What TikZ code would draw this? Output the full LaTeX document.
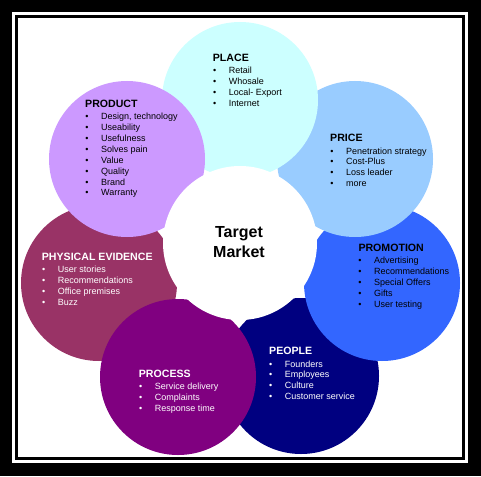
\documentclass[tikz,border=0pt]{standalone}
\usepackage{fontspec}
\setmainfont{Liberation Sans}
\usepackage{tikz}
\usetikzlibrary{positioning}

\definecolor{placecol}{HTML}{CCFFFF}
\definecolor{pricecol}{HTML}{99CCFF}
\definecolor{promocol}{HTML}{3366FF}
\definecolor{peoplecol}{HTML}{000080}
\definecolor{processcol}{HTML}{800080}
\definecolor{physcol}{HTML}{993366}
\definecolor{productcol}{HTML}{CC99FF}

\begin{document}
\begin{tikzpicture}[x=1pt, y=-1pt,
    petal/.style={circle, minimum size=156pt, inner sep=0pt},
    head/.style={anchor=base west, inner sep=0pt, font=\bfseries\fontsize{10.6}{12}\selectfont},
    item/.style={anchor=base west, inner sep=0pt, font=\fontsize{9}{10}\selectfont},
    dot/.style={anchor=base, inner sep=0pt, font=\fontsize{9}{10}\selectfont}]
    % Define spacing
    \def\row{10.95} % Distance between list rows

    \useasboundingbox (0,0) rectangle (481,476);

    % Frame
    \fill[black] (0,0) rectangle (481,476);
    \fill[white] (12,12) rectangle (468,463);
    \draw[line width=3.5pt] (16.3,16.3) rectangle (463.3,458.3);

    % Petals (back to front)
    \node[petal, fill=physcol] (phys) at (99,283) {};
    \node[petal, fill=peoplecol] (people) at (301,376) {};
    \node[petal, fill=promocol] (promo) at (382,283) {};
    \node[petal, fill=pricecol] (price) at (355,159) {};
    \node[petal, fill=placecol] (place) at (240,100) {};
    \node[petal, fill=productcol] (product) at (127,159) {};
    \node[petal, fill=processcol] (process) at (178,377) {};

    % Centre
    \node[petal, fill=white, minimum size=154pt] (target) at (240,243) {};
    \node[anchor=base, font=\bfseries\fontsize{16}{19}\selectfont] (tgt1) at (239,237.5) {Target};
    \node[anchor=base, font=\bfseries\fontsize{16}{19}\selectfont] (tgt2) at (239,257) {Market};

    % Place
    \node[head] (place head) at (212.7,61.5) {PLACE};
    \foreach \t [count=\i] in {Retail, Whosale, Local- Export, Internet} {
        \node[dot] (place dot \i) at (214.7, 73.2+\row*\i-\row) {\textbullet};
        \node[item] (place item \i) at (228.7, 73.2+\row*\i-\row) {\t};
    }

    % Product
    \node[head] (product head) at (85,107.1) {PRODUCT};
    \foreach \t [count=\i] in {{Design, technology}, Useability, Usefulness, Solves pain, Value, Quality, Brand, Warranty} {
        \node[dot] (product dot \i) at (87, 119.3+\row*\i-\row) {\textbullet};
        \node[item] (product item \i) at (101, 119.3+\row*\i-\row) {\t};
    }

    % Price
    \node[head] (price head) at (330,141.8) {PRICE};
    \foreach \t [count=\i] in {Penetration strategy, Cost-Plus, Loss leader, more} {
        \node[dot] (price dot \i) at (332, 154+\row*\i-\row) {\textbullet};
        \node[item] (price item \i) at (346, 154+\row*\i-\row) {\t};
    }

    % Promotion
    \node[head] (promo head) at (358.3,251.5) {PROMOTION};
    \foreach \t [count=\i] in {Advertising, Recommendations, Special Offers, Gifts, User testing} {
        \node[dot] (promo dot \i) at (360, 263.3+\row*\i-\row) {\textbullet};
        \node[item] (promo item \i) at (374, 263.3+\row*\i-\row) {\t};
    }

    % Physical evidence
    \node[head, white] (phys head) at (41.7,260.8) {PHYSICAL EVIDENCE};
    \foreach \t [count=\i] in {User stories, Recommendations, Office premises, Buzz} {
        \node[dot, white] (phys dot \i) at (43.7, 272.6+\row*\i-\row) {\textbullet};
        \node[item, white] (phys item \i) at (57.7, 272.6+\row*\i-\row) {\t};
    }

    % People
    \node[head, white] (people head) at (269,354.8) {PEOPLE};
    \foreach \t [count=\i] in {Founders, Employees, Culture, Customer service} {
        \node[dot, white] (people dot \i) at (270.7, 367+\row*\i-\row) {\textbullet};
        \node[item, white] (people item \i) at (284.7, 367+\row*\i-\row) {\t};
    }

    % Process
    \node[head, white] (process head) at (138.7,377.1) {PROCESS};
    \foreach \t [count=\i] in {Service delivery, Complaints, Response time} {
        \node[dot, white] (process dot \i) at (140.7, 389.3+\row*\i-\row) {\textbullet};
        \node[item, white] (process item \i) at (154.7, 389.3+\row*\i-\row) {\t};
    }

\end{tikzpicture}
\end{document}
